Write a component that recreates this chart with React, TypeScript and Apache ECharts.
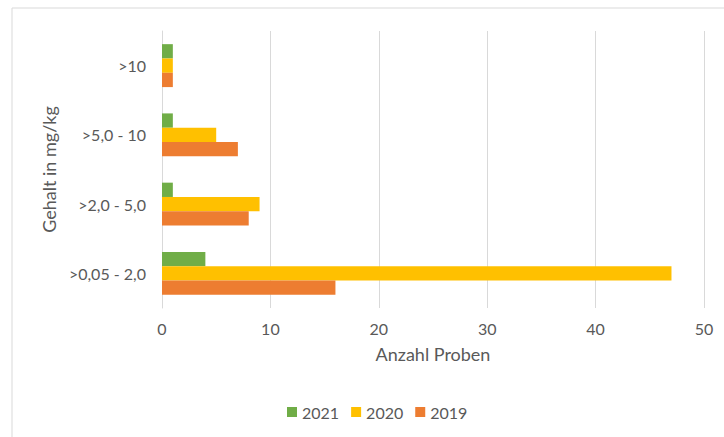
import React, { useEffect, useRef } from "react";
import * as echarts from "echarts";

const categories = [">0,05 - 2,0", ">2,0 - 5,0", ">5,0 - 10", ">10"];
const values2021 = [4, 1, 1, 1];
const values2020 = [47, 9, 5, 1];
const values2019 = [16, 8, 7, 1];
const xTicks = { min: 0, max: 50, interval: 10 };

const FONT = "Lato, 'Open Sans', sans-serif";
const TEXT = "#595959";

export default function App() {
  const ref = useRef<HTMLDivElement>(null);
  useEffect(() => {
    if (!ref.current) return;
    const chart = echarts.init(ref.current, undefined, { renderer: "svg" });
    chart.setOption({
      animation: false,
      backgroundColor: "#ffffff",
      textStyle: { fontFamily: FONT, color: TEXT },
      graphic: [
        {
          type: "rect",
          shape: { x: 12, y: 8, width: 760, height: 460 },
          style: { fill: "none", stroke: "#D9D9D9", lineWidth: 1 },
          silent: true,
        },
      ],
      grid: { left: 162, right: 20, top: 31, bottom: 129, containLabel: false },
      legend: {
        data: ["2021", "2020", "2019"],
        bottom: 12,
        left: 282,
        itemWidth: 10,
        itemHeight: 10,
        itemGap: 12,
        icon: "rect",
        textStyle: { fontFamily: FONT, color: TEXT, fontSize: 16 },
      },
      xAxis: {
        type: "value",
        min: xTicks.min,
        max: xTicks.max,
        interval: xTicks.interval,
        name: "Anzahl Proben",
        nameLocation: "middle",
        nameGap: 37,
        nameTextStyle: { fontFamily: FONT, color: TEXT, fontSize: 18 },
        axisLine: { show: false },
        axisTick: { show: false },
        axisLabel: { color: TEXT, fontSize: 16, fontFamily: FONT, margin: 12 },
        splitLine: { show: true, lineStyle: { color: "#D9D9D9", width: 1 } },
      },
      yAxis: {
        type: "category",
        data: categories,
        name: "Gehalt in mg/kg",
        nameLocation: "middle",
        nameGap: 103,
        nameTextStyle: { fontFamily: FONT, color: TEXT, fontSize: 18 },
        axisLine: { show: true, lineStyle: { color: "#D9D9D9" } },
        axisTick: { show: false },
        axisLabel: { color: TEXT, fontSize: 16, fontFamily: FONT, margin: 16 },
      },
      series: [
        {
          name: "2021",
          type: "bar",
          data: values2021,
          itemStyle: { color: "#70AD47" },
          barGap: "0%",
          barCategoryGap: "38%",
        },
        {
          name: "2020",
          type: "bar",
          data: values2020,
          itemStyle: { color: "#FFC000" },
          barGap: "0%",
          barCategoryGap: "38%",
        },
        {
          name: "2019",
          type: "bar",
          data: values2019,
          itemStyle: { color: "#ED7D31" },
          barGap: "0%",
          barCategoryGap: "38%",
        },
      ],
    });
    return () => chart.dispose();
  }, []);
  return (
    <div
      ref={ref}
      style={{ position: "fixed", left: 0, top: 0, width: 724, height: 437 }}
    />
  );
}
